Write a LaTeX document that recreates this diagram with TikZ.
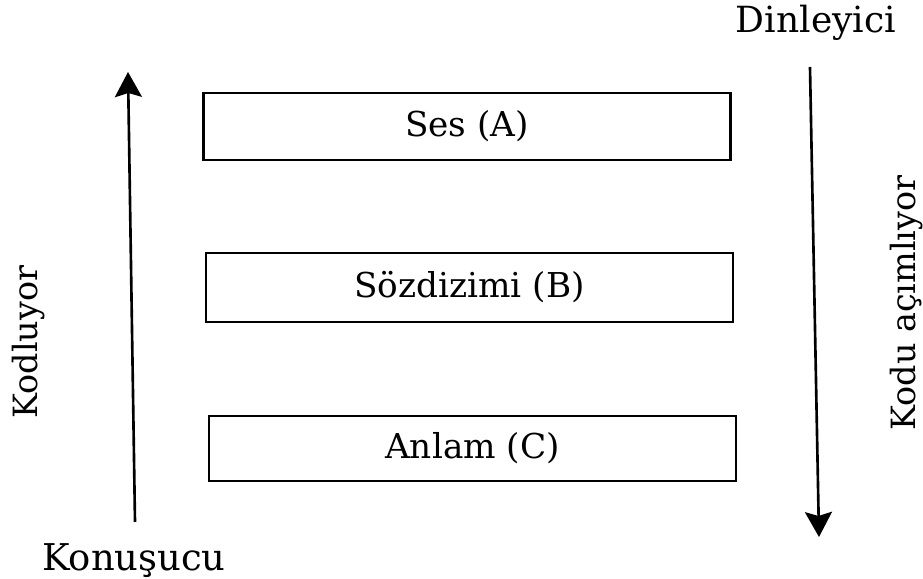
\documentclass[tikz,border=0pt]{standalone}
\usepackage{fontspec}
\setmainfont{DejaVu Serif}
\usetikzlibrary{arrows.meta}
\tikzset{
  layerbox/.style={draw=black, line width=1.4pt, minimum width=10.54cm, minimum height=1.34cm, inner sep=0pt, font=\fontsize{19.5}{22}\selectfont},
  flowarrow/.style={line width=1.5pt, -{Stealth[length=0.5cm, width=0.54cm, inset=0.08cm]}},
  outerlabel/.style={inner sep=0pt, anchor=base, font=\fontsize{19}{22}\selectfont},
}
\begin{document}
\begin{tikzpicture}
\useasboundingbox (0,0) rectangle (18.46,11.58);
% boxes
\node[layerbox] (A) at (9.34,9.05) {Ses (A)};
\node[layerbox, minimum height=1.38cm] (B) at (9.39,5.83) {Sözdizimi (B)};
\node[layerbox, minimum height=1.30cm] (C) at (9.45,2.61) {Anlam (C)};
% arrow endpoints
\coordinate (Lbot) at (2.70,1.14);
\coordinate (Ltop) at (2.56,10.14);
\coordinate (Rtop) at (16.20,10.24);
\coordinate (Rbot) at (16.38,0.84);
\draw[flowarrow] (Lbot) -- (Ltop);
\draw[flowarrow] (Rtop) -- (Rbot);
% labels
\node[outerlabel, font=\fontsize{20.5}{24}\selectfont] (din) at (16.32,10.92) {Dinleyici};
\node[outerlabel, font=\fontsize{21}{24}\selectfont] (kon) at (2.68,0.16) {Konuşucu};
\node[outerlabel, rotate=90] (kod) at (0.74,4.74) {Kodluyor};
\node[outerlabel, rotate=90] (koda) at (18.30,5.52) {Kodu açımlıyor};
\end{tikzpicture}
\end{document}
